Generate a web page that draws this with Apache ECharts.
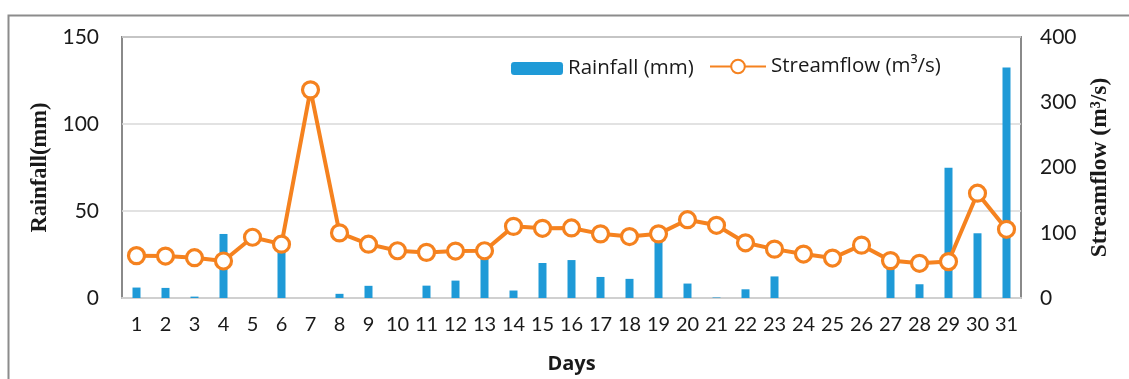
<!DOCTYPE html>
<html>
<head>
<meta charset="utf-8">
<script src="https://cdn.jsdelivr.net/npm/echarts@6/dist/echarts.min.js"></script>
<style>
  html, body { margin: 0; padding: 0; background: #fff; }
  #chart { width: 1129px; height: 379px; }
</style>
</head>
<body>
<div id="chart"></div>
<script>
// Daily rainfall and streamflow over one month
const days = Array.from({ length: 31 }, (_, i) => String(i + 1));
const rainfall = [6.0, 5.8, 0.8, 36.8, 0, 35.5, 0, 2.4, 7.0, 0,
                  7.1, 10.0, 24.0, 4.3, 20.1, 21.8, 12.1, 11.0, 35.0, 8.3,
                  0.3, 5.0, 12.4, 0, 0, 0, 20.0, 7.9, 74.8, 37.2, 132.4];
const streamflow = [64.9, 64.3, 61.8, 56.7, 93.1, 82.5, 319, 99.8, 82.5, 72.4,
                    69.9, 71.9, 72.4, 109.8, 106.8, 107.4, 98.3, 94.2, 98.3, 120,
                    111.4, 84.6, 74.9, 67.3, 61.2, 81, 57.3, 53.2, 55.8, 160.6, 105.3];
const rainTicks = { min: 0, max: 150, interval: 50 };
const flowTicks = { min: 0, max: 400, interval: 100 };

const BLUE = '#1f9ad7';
const ORANGE = '#f5821f';
const TEXT = '#1a1a1a';
const SANS = 'Lato, "Open Sans", sans-serif';
const WIDE = '"Open Sans", Lato, sans-serif';
const SERIF = '"Liberation Serif", "DejaVu Serif", serif';

const chart = echarts.init(document.getElementById('chart'), null, { renderer: 'canvas' });

chart.setOption({
  animation: false,
  backgroundColor: '#fff',
  graphic: [{
    type: 'rect',
    shape: { x: 8.5, y: 15.5, width: 1200, height: 400 },
    style: { fill: 'none', stroke: '#8c8c8c', lineWidth: 2 },
    z: 0
  }],
  grid: {
    left: 122, top: 37, right: 108, bottom: 79,
    show: true, borderColor: '#8a8a8a', borderWidth: 2, backgroundColor: 'transparent'
  },
  legend: [{
    data: ['Rainfall (mm)'],
    left: 511, top: 58, padding: 0,
    itemWidth: 52, itemHeight: 13,
    textStyle: { fontFamily: WIDE, fontSize: 20.5, color: TEXT }
  }, {
    data: ['Streamflow (m³/s)'],
    left: 709, top: 56, padding: 0,
    itemWidth: 56, itemHeight: 17,
    textStyle: { fontFamily: WIDE, fontSize: 20.5, color: TEXT }
  }],
  xAxis: {
    type: 'category',
    data: days,
    name: 'Days',
    nameLocation: 'middle',
    nameGap: 56,
    nameTextStyle: { fontFamily: WIDE, fontSize: 20, fontWeight: 'bold', color: TEXT },
    axisLine: { lineStyle: { color: '#d0d0d0', width: 2 } },
    axisTick: { show: false },
    axisLabel: { fontFamily: SANS, fontSize: 20, color: TEXT, margin: 17, interval: 0 }
  },
  yAxis: [{
    type: 'value',
    min: rainTicks.min, max: rainTicks.max, interval: rainTicks.interval,
    name: 'Rainfall(mm)',
    nameLocation: 'middle',
    nameRotate: 90,
    nameGap: 70,
    nameTextStyle: { fontFamily: SERIF, fontSize: 22.5, fontWeight: 'bold', color: TEXT },
    axisLine: { show: false },
    axisTick: { show: false },
    axisLabel: { fontFamily: SANS, fontSize: 21, color: TEXT, margin: 23 },
    splitLine: { lineStyle: { color: '#d9d9d9', width: 1.5 } }
  }, {
    type: 'value',
    min: flowTicks.min, max: flowTicks.max, interval: flowTicks.interval,
    name: 'Streamflow (m³/s)',
    nameLocation: 'middle',
    nameRotate: 90,
    nameGap: 64,
    nameTextStyle: { fontFamily: SERIF, fontSize: 23.5, fontWeight: 'bold', color: TEXT },
    axisLine: { show: false },
    axisTick: { show: false },
    axisLabel: { fontFamily: SANS, fontSize: 21, color: TEXT, margin: 19 },
    splitLine: { show: false }
  }],
  series: [{
    name: 'Rainfall (mm)',
    type: 'bar',
    yAxisIndex: 0,
    data: rainfall,
    barWidth: 8,
    itemStyle: { color: BLUE },
    z: 2
  }, {
    name: 'Streamflow (m³/s)',
    type: 'line',
    yAxisIndex: 1,
    data: streamflow,
    symbol: 'circle',
    symbolSize: 16,
    showAllSymbol: true,
    lineStyle: { color: ORANGE, width: 4 },
    itemStyle: { color: '#fff', borderColor: ORANGE, borderWidth: 3.2 },
    z: 3
  }]
});
</script>
</body>
</html>
